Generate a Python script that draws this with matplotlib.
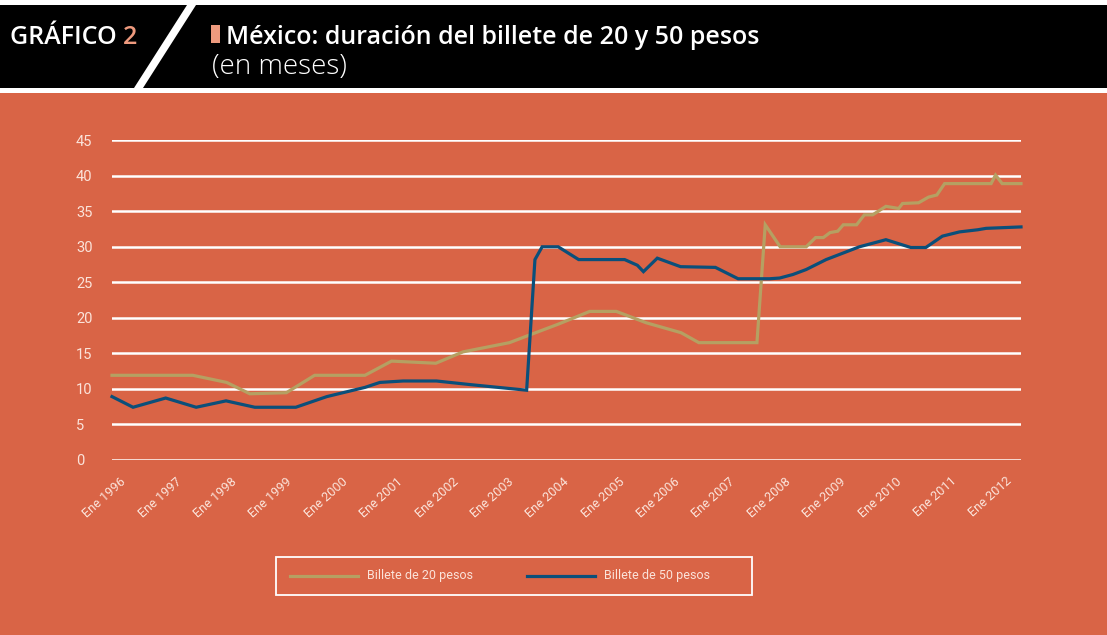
import matplotlib
matplotlib.use('Agg')
import matplotlib.pyplot as plt
from matplotlib.patches import Rectangle, Polygon
from matplotlib.lines import Line2D
import matplotlib.transforms as mtransforms

# ---------------- data ----------------
years_20 = [1996.0, 1997.46, 1998.07, 1998.49, 1999.15, 1999.66, 2000.57, 2001.05,
            2001.85, 2002.34, 2003.18, 2003.55, 2004.06, 2004.63, 2005.11, 2005.65,
            2006.28, 2006.60, 2007.65, 2007.80, 2008.07, 2008.54, 2008.71, 2008.85,
            2008.97, 2009.11, 2009.21, 2009.45, 2009.59, 2009.74, 2009.98, 2010.21,
            2010.28, 2010.57, 2010.75, 2010.90, 2011.04, 2011.88, 2011.96, 2012.08,
            2012.42]
billete_20 = [11.9, 11.9, 10.9, 9.3, 9.45, 11.9, 11.9, 13.9,
              13.6, 15.2, 16.5, 17.6, 19.1, 20.9, 20.9, 19.3,
              17.9, 16.5, 16.5, 33.1, 30.0, 30.0, 31.3, 31.3,
              32.0, 32.2, 33.1, 33.1, 34.5, 34.5, 35.7, 35.4,
              36.1, 36.2, 37.0, 37.3, 38.9, 38.9, 40.1, 38.9,
              38.9]

years_50 = [1996.0, 1996.38, 1996.97, 1997.52, 1998.06, 1998.58, 1999.32, 1999.88,
            2000.57, 2000.84, 2001.26, 2001.86, 2002.46, 2003.49, 2003.64, 2003.77,
            2004.06, 2004.43, 2005.26, 2005.49, 2005.60, 2005.85, 2006.27, 2006.90,
            2007.31, 2007.88, 2008.06, 2008.30, 2008.54, 2008.90, 2009.50, 2009.98,
            2010.43, 2010.70, 2011.00, 2011.31, 2011.64, 2011.79, 2012.42]
billete_50 = [8.9, 7.4, 8.7, 7.4, 8.3, 7.4, 7.4, 8.9,
              10.2, 10.9, 11.1, 11.1, 10.6, 9.8, 28.2, 30.0,
              30.0, 28.2, 28.2, 27.4, 26.5, 28.4, 27.2, 27.1,
              25.5, 25.5, 25.6, 26.1, 26.8, 28.2, 30.0, 31.0,
              29.9, 29.9, 31.5, 32.1, 32.4, 32.6, 32.8]

tick_years = list(range(1996, 2013))
tick_labels = ['Ene %d' % y for y in tick_years]
y_ticks = [0, 5, 10, 15, 20, 25, 30, 35, 40, 45]
series_names = ['Billete de 20 pesos', 'Billete de 50 pesos']

title_tag = 'GRÁFICO '
title_num = '2'
title_main = 'México: duración del billete de 20 y 50 pesos'
title_sub = '(en meses)'

# ---------------- style ----------------
BG = '#D96446'
GOLD = '#B5A062'
BLUE = '#0B4F7A'
TXT = '#FBE3DA'
SALMON = '#EE9A7E'
FONT = ['Roboto', 'DejaVu Sans']
HFONT = ['Open Sans', 'DejaVu Sans']
plt.rcParams['font.family'] = FONT

W, H = 1107, 635
fig = plt.figure(figsize=(W / 100, H / 100), dpi=100)
fig.patch.set_facecolor(BG)

def fx(x):
    return x / W

def fy(y):
    return 1 - y / H

# header band
fig.patches.append(Rectangle((0, fy(93)), 1, 93 / H, transform=fig.transFigure,
                             facecolor='white', edgecolor='none', zorder=0))
fig.patches.append(Rectangle((0, fy(88)), 1, 83 / H, transform=fig.transFigure,
                             facecolor='black', edgecolor='none', zorder=0))
# diagonal slash
fig.patches.append(Polygon([(fx(134), fy(88)), (fx(143), fy(88)), (fx(196), fy(5)),
                            (fx(187), fy(5))], closed=True, transform=fig.transFigure,
                           facecolor='white', edgecolor='none', zorder=1))
# titles
HS = 18
t1 = fig.text(fx(10), fy(44), title_tag, color='white', fontsize=HS, family=HFONT,
              fontweight='semibold', ha='left', va='baseline')
fig.canvas.draw()
bb = t1.get_window_extent()
fig.text(bb.x1 / W, fy(44), title_num, color=SALMON, fontsize=HS, family=HFONT,
         fontweight='semibold', ha='left', va='baseline')
fig.patches.append(Rectangle((fx(211), fy(43)), 9 / W, 18 / H, transform=fig.transFigure,
                             facecolor=SALMON, edgecolor='none', zorder=2))
fig.text(fx(226), fy(44), title_main, color='white', fontsize=HS, family=HFONT,
         fontweight='semibold', ha='left', va='baseline')
fig.text(fx(212), fy(74), title_sub, color='white', fontsize=20, fontweight='light',
         family=HFONT, ha='left', va='baseline')

# axes
ax = fig.add_axes([fx(112), fy(459.8), (1021 - 112) / W, (459.8 - 140.3) / H])
ax.set_facecolor('none')
for s in ax.spines.values():
    s.set_visible(False)
ax.set_xlim(1996.0, 2012.42)
ax.set_ylim(0, 45)
ax.set_yticks(y_ticks)
ax.set_yticklabels([str(v) for v in y_ticks], color=TXT, fontsize=10.5)
ax.tick_params(axis='y', length=0, pad=26)
for lab in ax.get_yticklabels():
    lab.set_horizontalalignment('left')
for v in y_ticks:
    ax.axhline(v, color='white', lw=1.8, zorder=1)

ax.set_xticks(tick_years)
ax.set_xticklabels([])
ax.tick_params(axis='x', length=0)
off = mtransforms.ScaledTranslation(8 / 100, -15 / 100, fig.dpi_scale_trans)
for yr, lab in zip(tick_years, tick_labels):
    ax.text(yr, 0, lab, transform=ax.get_xaxis_transform() + off, rotation=42,
            rotation_mode='anchor', ha='right', va='top', color=TXT, fontsize=9.2)

l20, = ax.plot(years_20, billete_20, color=GOLD, lw=2.3, zorder=3,
               solid_joinstyle='miter', clip_on=False)
l50, = ax.plot(years_50, billete_50, color=BLUE, lw=2.3, zorder=4,
               solid_joinstyle='miter', clip_on=False)

# legend box (manual)
fig.patches.append(Rectangle((fx(276), fy(595)), (752 - 276) / W, 38 / H,
                             transform=fig.transFigure, facecolor='none',
                             edgecolor='white', lw=1.3, zorder=5))
for (x0, x1, xt), line, name in zip([(290, 358, 367), (527, 595, 604)], [l20, l50], series_names):
    fig.lines.append(Line2D([fx(x0), fx(x1)], [fy(576), fy(576)], transform=fig.transFigure,
                            color=line.get_color(), lw=2.3))
    fig.text(fx(xt), fy(576), name, color=TXT, fontsize=9, ha='left', va='center')

fig.savefig('out.png', dpi=100, facecolor=BG)
